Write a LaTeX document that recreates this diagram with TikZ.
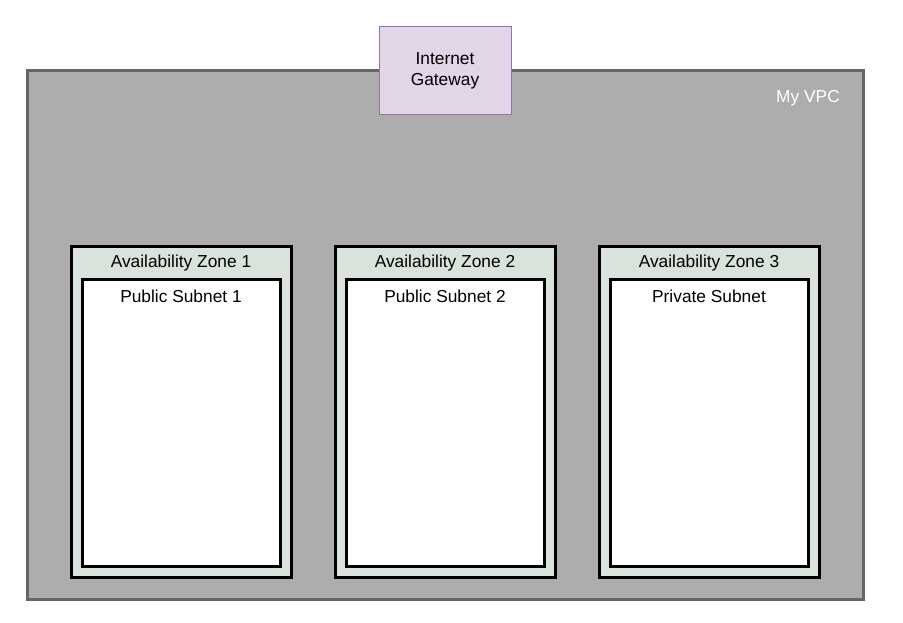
\documentclass[tikz,border=0pt]{standalone}
\usepackage{fontspec}
\setmainfont{Liberation Sans}
\tikzset{every picture/.style={line width=0.75pt}}

\begin{document}
\begin{tikzpicture}[x=0.75pt,y=0.75pt,yscale=-1,xscale=1]
\useasboundingbox (0,0) rectangle (903,623);

%Shape: Rectangle [id:vpc] 
\draw  [color={rgb, 255:red, 102; green, 102; blue, 102 }  ,draw opacity=1 ][fill={rgb, 255:red, 173; green, 173; blue, 173 }  ,fill opacity=1 ][line width=2.25]  (27,71) rectangle (863,599) ;
%Shape: Rectangle [id:gateway] 
\draw  [color={rgb, 255:red, 150; green, 115; blue, 166 }  ,draw opacity=1 ][fill={rgb, 255:red, 225; green, 213; blue, 231 }  ,fill opacity=1 ] (379,27) rectangle (511,115) ;
%Shape: Rectangle [id:zone1] 
\draw  [fill={rgb, 255:red, 218; green, 227; blue, 219 }  ,fill opacity=1 ][line width=2.25]  (71,247) rectangle (291,577) ;
%Shape: Rectangle [id:zone2] 
\draw  [fill={rgb, 255:red, 218; green, 227; blue, 219 }  ,fill opacity=1 ][line width=2.25]  (335,247) rectangle (555,577) ;
%Shape: Rectangle [id:zone3] 
\draw  [fill={rgb, 255:red, 218; green, 227; blue, 219 }  ,fill opacity=1 ][line width=2.25]  (599,247) rectangle (819,577) ;
%Shape: Rectangle [id:subnet1] 
\draw  [fill={rgb, 255:red, 255; green, 255; blue, 255 }  ,fill opacity=1 ][line width=2.25]  (82,280) rectangle (280,566) ;
%Shape: Rectangle [id:subnet2] 
\draw  [fill={rgb, 255:red, 255; green, 255; blue, 255 }  ,fill opacity=1 ][line width=2.25]  (346,280) rectangle (544,566) ;
%Shape: Rectangle [id:subnet3] 
\draw  [fill={rgb, 255:red, 255; green, 255; blue, 255 }  ,fill opacity=1 ][line width=2.25]  (610,280) rectangle (808,566) ;

% Text Node
\draw (445,71) node [inner sep=0.75pt, align=center, font=\fontsize{13}{15.75}\selectfont] (gwlabel)  {Internet\\Gateway};
% Text Node
\draw (808,98) node [inner sep=0.75pt, color=white, font=\fontsize{13}{15}\selectfont] (vpclabel)  {My VPC};
% Text Node
\draw (181,263) node [inner sep=0.75pt, font=\fontsize{13}{15}\selectfont] (zonelabel1)  {Availability Zone 1};
% Text Node
\draw (445,263) node [inner sep=0.75pt, font=\fontsize{13}{15}\selectfont] (zonelabel2)  {Availability Zone 2};
% Text Node
\draw (709,263) node [inner sep=0.75pt, font=\fontsize{13}{15}\selectfont] (zonelabel3)  {Availability Zone 3};
% Text Node
\draw (181,296) node [inner sep=0.75pt, font=\fontsize{13}{15}\selectfont] (subnetlabel1)  {Public Subnet 1};
% Text Node
\draw (445,296) node [inner sep=0.75pt, font=\fontsize{13}{15}\selectfont] (subnetlabel2)  {Public Subnet 2};
% Text Node
\draw (709,296) node [inner sep=0.75pt, font=\fontsize{13}{15}\selectfont] (subnetlabel3)  {Private Subnet};

\end{tikzpicture}
\end{document}
